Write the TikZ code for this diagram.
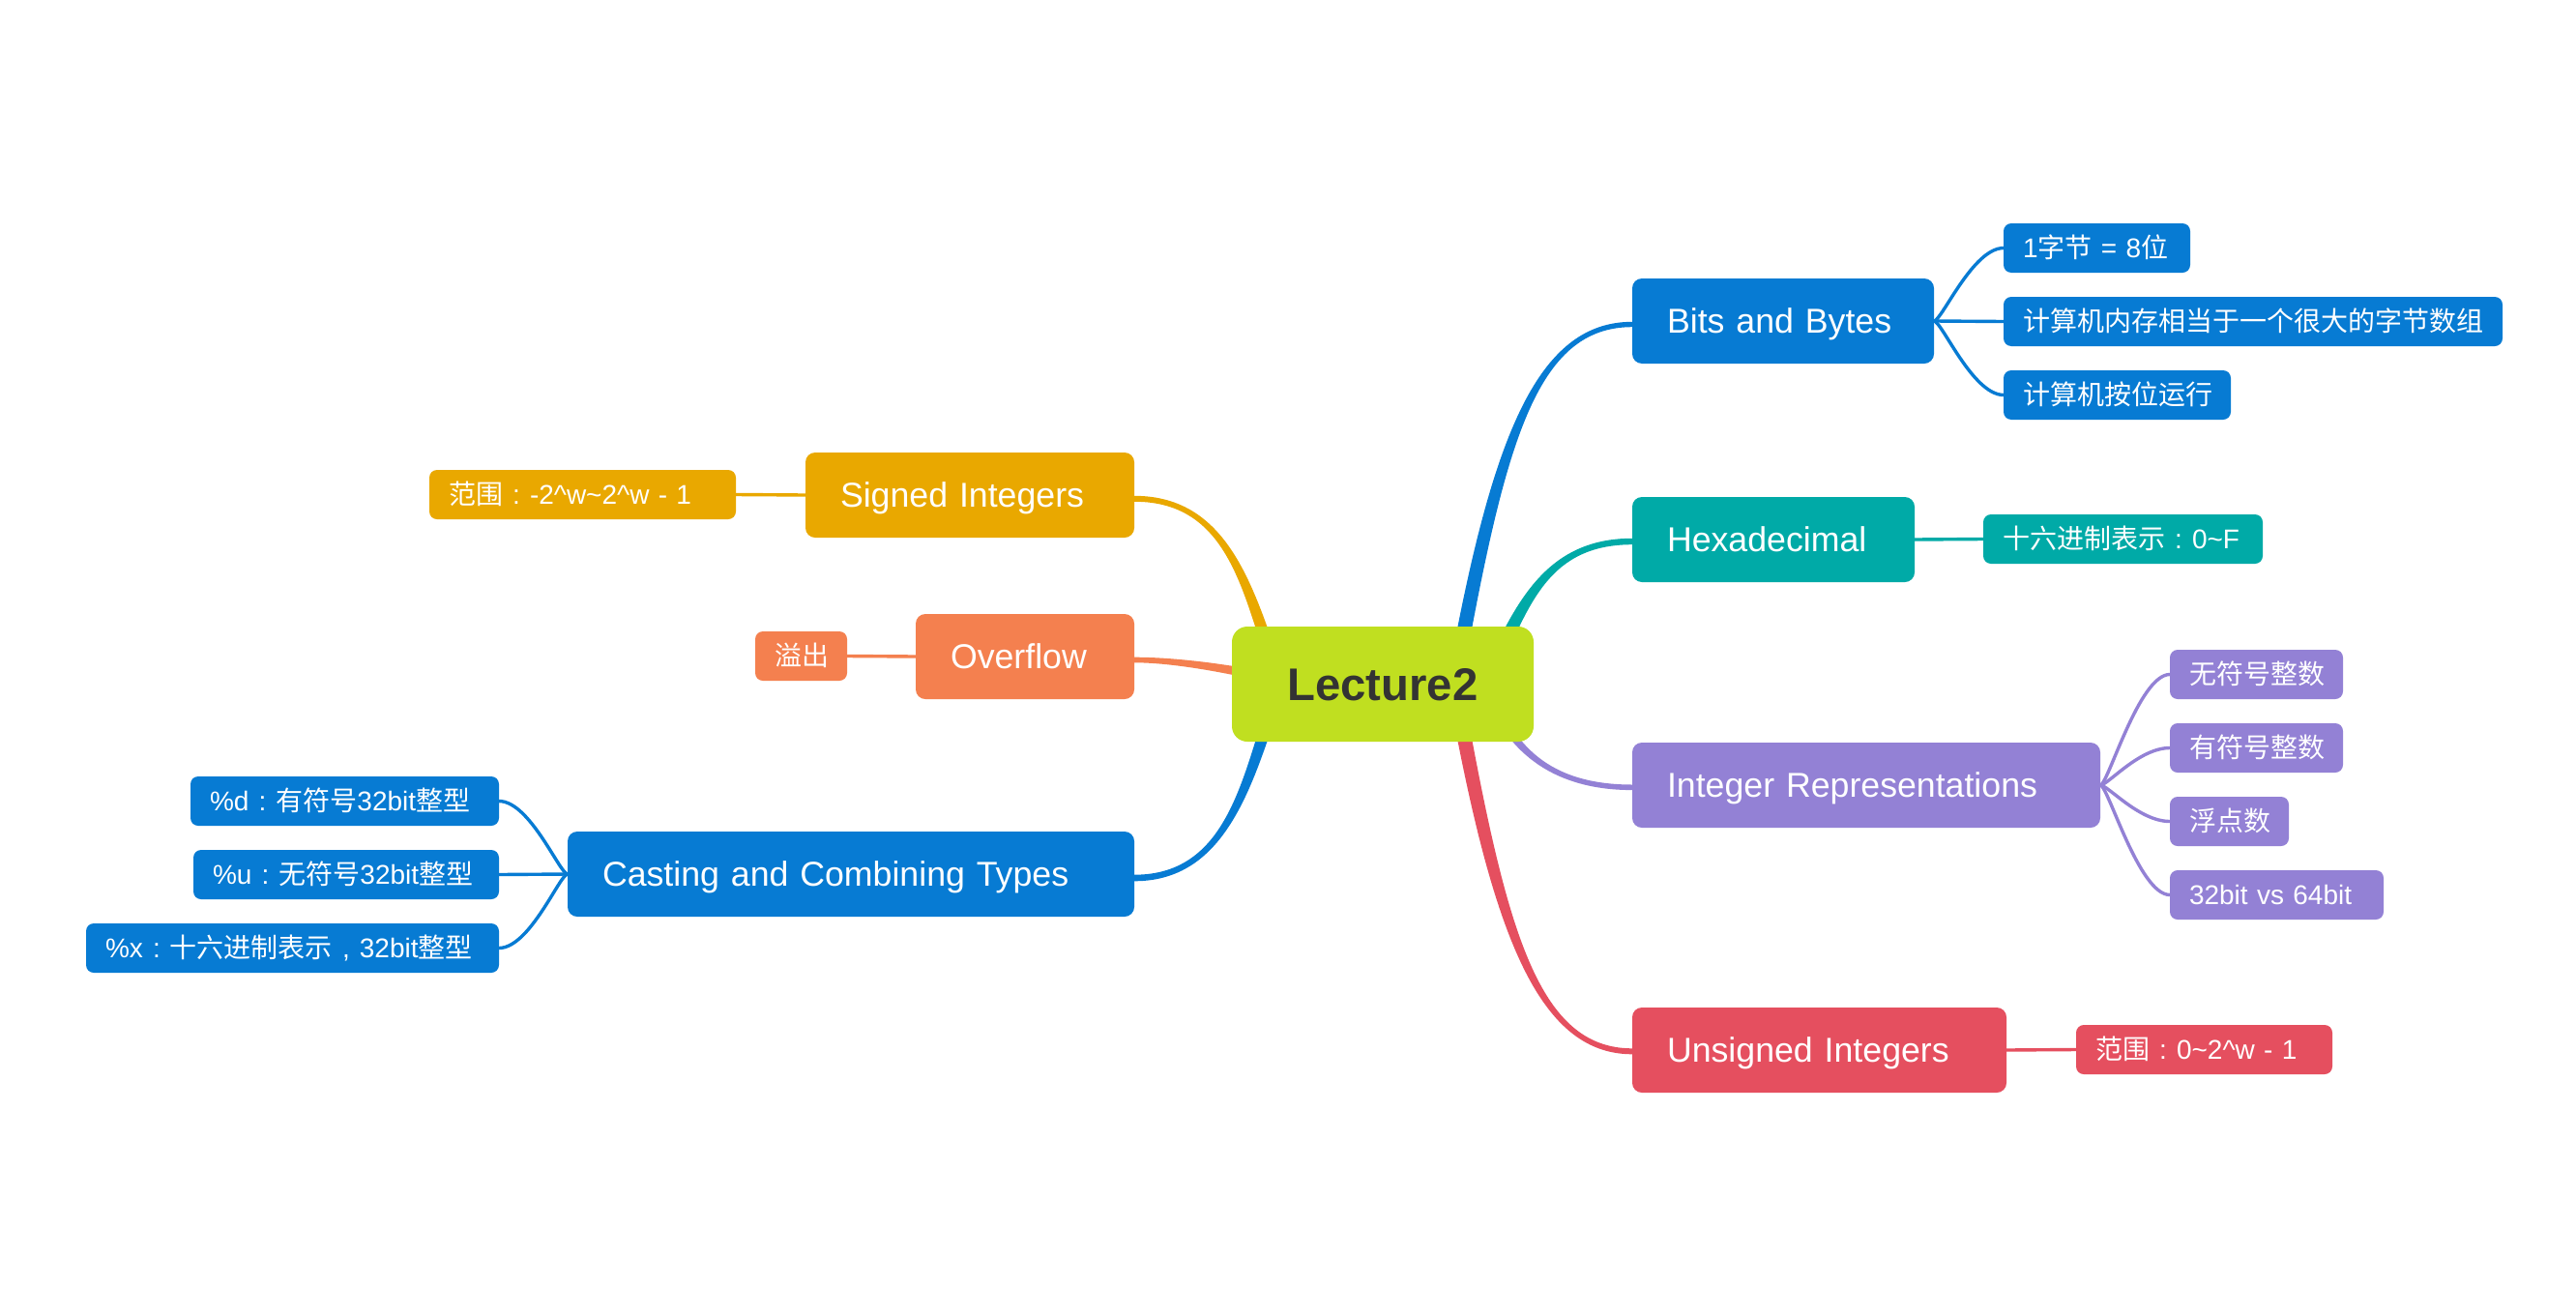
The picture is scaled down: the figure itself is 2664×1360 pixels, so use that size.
\documentclass[tikz,border=0pt]{standalone}
\usepackage{fontspec}
\setmainfont{Liberation Sans}
\newfontfamily\cjk{Noto Sans CJK SC}
\usetikzlibrary{calc}
\definecolor{cLime}{HTML}{C0DF20}
\definecolor{cDark}{HTML}{333333}
\definecolor{cBlue}{HTML}{077BD3}
\definecolor{cTeal}{HTML}{00AAA7}
\definecolor{cPurple}{HTML}{9381D5}
\definecolor{cRed}{HTML}{E54F5F}
\definecolor{cGold}{HTML}{E9A800}
\definecolor{cOrange}{HTML}{F4804F}
\newcommand\fwcolon{\makebox[1em][c]{:}}
\newcommand\fwcomma{\makebox[1em][c]{,}}
% tapered branch: colour, start, control1, control2, end, start half-width, end half-width
\newcommand\mmtaper[7]{%
  \fill[#1] ($(#2)!#6!90:(#3)$) .. controls ($(#3)!#6!-90:(#2)$) and ($(#4)!#7!90:(#5)$) .. ($(#5)!#7!-90:(#4)$)
    -- ($(#5)!#7!90:(#4)$) .. controls ($(#4)!#7!-90:(#5)$) and ($(#3)!#6!90:(#2)$) .. ($(#2)!#6!-90:(#3)$) -- cycle;}
\begin{document}
\begin{tikzpicture}[x=1pt,y=-1pt,
  boxbase/.style={inner sep=0pt, outer sep=0pt, anchor=north west, text=white, align=left},
  mainbox/.style={boxbase, rounded corners=10pt, inner xsep=36pt, minimum height=88pt,
    font=\fontsize{35.7pt}{42pt}\selectfont, text height=32pt, text depth=6.4pt},
  subbox/.style={boxbase, rounded corners=8pt, inner xsep=20pt, minimum height=51pt,
    font=\fontsize{28pt}{34pt}\selectfont, text height=25.2pt, text depth=5pt},
  rootbox/.style={boxbase, align=center, rounded corners=16pt, text=cDark,
    font=\bfseries\fontsize{47.3pt}{56pt}\selectfont, minimum width=312pt, minimum height=119pt,
    text height=40pt, text depth=6.2pt},
  subline/.style={line width=3.4pt},
]
\fill[white] (0,0) rectangle (2664,1360);
\useasboundingbox (0,0) rectangle (2664,1360);

% start points (hidden under the central node) and end points of the main branches
\coordinate (sBits) at (1504,707);
\coordinate (sHex) at (1537,707);
\coordinate (sInt) at (1540,715);
\coordinate (sUns) at (1504,707);
\coordinate (sSig) at (1324,707);
\coordinate (sOvf) at (1360,712);
\coordinate (sCas) at (1324,707);

\coordinate (eBits) at (1688,335.5);
\coordinate (eHex) at (1688,560);
\coordinate (eInt) at (1688,814.3);
\coordinate (eUns) at (1688,1087.3);
\coordinate (eSig) at (1173,515.8);
\coordinate (eOvf) at (1173,682.5);
\coordinate (eCas) at (1173,908);

\mmtaper{cBlue}{sBits}{1549,457}{1588,335.5}{eBits}{7.5pt}{2.7pt}
\mmtaper{cTeal}{sHex}{1573,627}{1598,560}{eHex}{7.3pt}{3.2pt}
\mmtaper{cPurple}{sInt}{1560,770}{1600,814.3}{eInt}{4.8pt}{2.8pt}
\mmtaper{cRed}{sUns}{1549,957}{1588,1087.3}{eUns}{7.5pt}{3pt}
\mmtaper{cGold}{sSig}{1292,617}{1274,515.8}{eSig}{6.5pt}{3pt}
\mmtaper{cOrange}{sOvf}{1290,694}{1220,682.5}{eOvf}{5.5pt}{2.8pt}
\mmtaper{cBlue}{sCas}{1292,797}{1274,908}{eCas}{6.5pt}{3.3pt}

% ---------- central and main nodes
\node[rootbox, fill=cLime] (lec) at (1274,648) {Lecture2};

\node[mainbox, fill=cBlue, text width=240pt] (bits) at (1688,288) {Bits and Bytes};
\node[mainbox, fill=cTeal, text width=220pt] (hex) at (1688,514) {Hexadecimal};
\node[mainbox, fill=cPurple, text width=412pt] (intrep) at (1688,768) {Integer Representations};
\node[mainbox, fill=cRed, text width=315pt] (unsig) at (1688,1042) {Unsigned Integers};
\node[mainbox, fill=cGold, text width=268pt] (signed) at (833,468) {Signed Integers};
\node[mainbox, fill=cOrange, text width=154pt] (overflow) at (947,635) {Overflow};
\node[mainbox, fill=cBlue, text width=514pt] (casting) at (587,860) {Casting and Combining Types};

% ---------- sub nodes
\node[subbox, fill=cBlue, text width=153pt] (b1) at (2072,231) {1{\cjk 字节} = 8{\cjk 位}};
\node[subbox, fill=cBlue, text width=476pt] (b2) at (2072,307) {{\cjk 计算机内存相当于一个很大的字节数组}};
\node[subbox, fill=cBlue, text width=195pt] (b3) at (2072,383) {{\cjk 计算机按位运行}};
\node[subbox, fill=cTeal, text width=249pt] (h1) at (2051,532) {{\cjk 十六进制表示}\fwcolon 0\textasciitilde F};
\node[subbox, fill=cPurple, text width=139pt] (i1) at (2244,672) {{\cjk 无符号整数}};
\node[subbox, fill=cPurple, text width=139pt] (i2) at (2244,748) {{\cjk 有符号整数}};
\node[subbox, fill=cPurple, text width=83pt] (i3) at (2244,824) {{\cjk 浮点数}};
\node[subbox, fill=cPurple, text width=181pt] (i4) at (2244,900) {32bit vs 64bit};
\node[subbox, fill=cRed, text width=225pt] (u1) at (2147,1060) {{\cjk 范围}\fwcolon 0\textasciitilde 2\textasciicircum w - 1};
\node[subbox, fill=cGold, text width=277pt] (s1) at (444,486) {{\cjk 范围}\fwcolon -2\textasciicircum w\textasciitilde 2\textasciicircum w - 1};
\node[subbox, fill=cOrange, text width=55pt] (o1) at (781,653) {{\cjk 溢出}};
\node[subbox, fill=cBlue, text width=279pt] (c1) at (197,803) {\%d\fwcolon{\cjk 有符号}32bit{\cjk 整型}};
\node[subbox, fill=cBlue, text width=276pt] (c2) at (200,879) {\%u\fwcolon{\cjk 无符号}32bit{\cjk 整型}};
\node[subbox, fill=cBlue, text width=387pt] (c3) at (89,955) {\%x\fwcolon{\cjk 十六进制表示}\fwcomma 32bit{\cjk 整型}};

% ---------- sub connectors
\begin{scope}[subline]
\draw[cBlue] (bits.east) .. controls +(8,0) and +(-32,0) .. (b1.west);
\draw[cBlue] (bits.east) -- (b2.west);
\draw[cBlue] (bits.east) .. controls +(8,0) and +(-32,0) .. (b3.west);
\draw[cTeal] (hex.east) -- (h1.west);
\draw[cPurple] (intrep.east) .. controls +(8,0) and +(-32,0) .. (i1.west);
\draw[cPurple] (intrep.east) .. controls +(8,0) and +(-32,0) .. (i2.west);
\draw[cPurple] (intrep.east) .. controls +(8,0) and +(-32,0) .. (i3.west);
\draw[cPurple] (intrep.east) .. controls +(8,0) and +(-32,0) .. (i4.west);
\draw[cRed] (unsig.east) -- (u1.west);
\draw[cGold] (signed.west) -- (s1.east);
\draw[cOrange] (overflow.west) -- (o1.east);
\draw[cBlue] (casting.west) .. controls +(-8,0) and +(32,0) .. (c1.east);
\draw[cBlue] (casting.west) -- (c2.east);
\draw[cBlue] (casting.west) .. controls +(-8,0) and +(32,0) .. (c3.east);
\end{scope}
\end{tikzpicture}
\end{document}
